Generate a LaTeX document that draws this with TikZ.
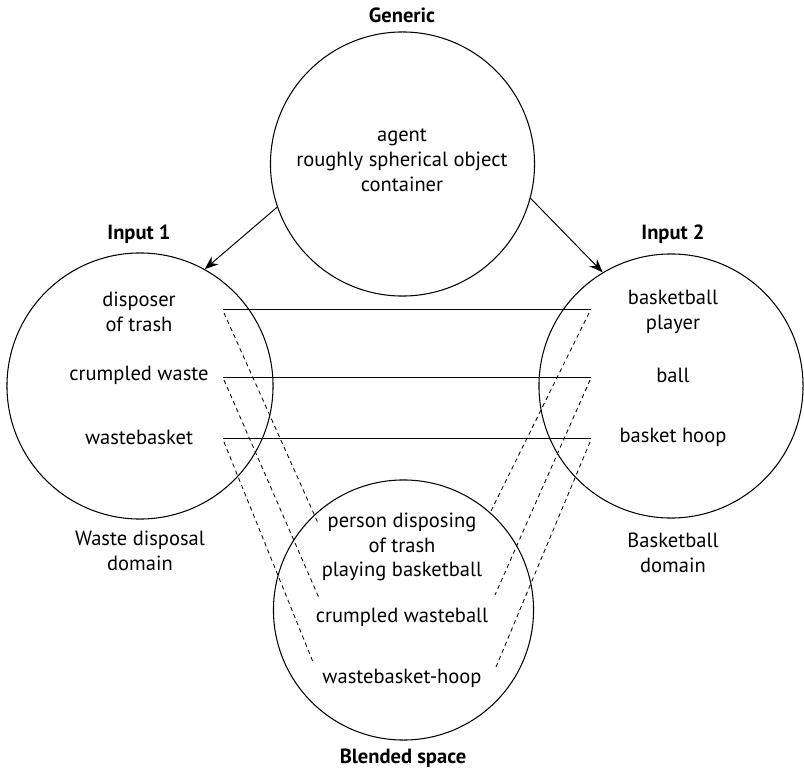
\documentclass[tikz,border=0pt]{standalone}
\usepackage{fontspec}
\setmainfont{PT Sans}
\usetikzlibrary{arrows.meta,positioning}

\begin{document}
\begin{tikzpicture}[
  x=0.025cm, y=-0.025cm,
  font=\fontsize{14.6}{17.6}\selectfont,
  space/.style={draw, circle, line width=0.75pt, inner sep=0pt},
  title/.style={font=\fontsize{14.6}{17.6}\selectfont\bfseries, inner sep=1pt},
  item/.style={align=center, inner sep=1pt},
  arrow/.style={-{Stealth[length=3.4mm, width=2.6mm]}, line width=0.7pt},
  link/.style={line width=0.65pt},
  blendlink/.style={line width=0.6pt, dash pattern=on 3pt off 2.5pt}
]
\useasboundingbox (0,0) rectangle (804,768);

\node[space, minimum size=6.6cm] (gen) at (402.5,164) {};
\node[space, minimum size=6.65cm] (in1) at (140,386) {};
\node[space, minimum size=6.6cm] (in2) at (671,386) {};
\node[space, minimum size=6.5cm] (blend) at (403.5,610) {};

\node[title] (gent) at (402,15) {Generic};
\node[title] (in1t) at (139,234) {Input 1};
\node[title] (in2t) at (673,234) {Input 2};
\node[title] (blendt) at (403,758) {Blended space};

\node[item] (genx) at (402,160) {agent\\roughly spherical object\\container};

\node[item] (a1) at (139,312) {disposer\\of trash};
\node[item] (a2) at (139,375) {crumpled waste};
\node[item] (a3) at (139,437) {wastebasket};
\node[item] (adom) at (140,551) {Waste disposal\\domain};

\node[item] (b1) at (673,312) {basketball\\player};
\node[item] (b2) at (673,375) {ball};
\node[item] (b3) at (673,437) {basket hoop};
\node[item] (bdom) at (673,553) {Basketball\\domain};

\node[item] (c1) at (402,547) {person disposing\\of trash\\playing basketball};
\node[item] (c2) at (402,617) {crumpled wasteball};
\node[item] (c3) at (402,678) {wastebasket-hoop};

\coordinate (l1a) at (223,309);
\coordinate (l1b) at (591,309);
\coordinate (l2a) at (223,377);
\coordinate (l2b) at (591,377);
\coordinate (l3a) at (223,438);
\coordinate (l3b) at (591,438);

\coordinate (d1a) at (224,313);
\coordinate (d2a) at (224,380);
\coordinate (d3a) at (224,442);
\coordinate (e1a) at (589,313);
\coordinate (e2a) at (590,380);
\coordinate (e3a) at (590,442);

\coordinate (d1b) at (318,523);
\coordinate (d2b) at (319,598);
\coordinate (d3b) at (313,662);
\coordinate (e1b) at (490,513);
\coordinate (e2b) at (495,595);
\coordinate (e3b) at (496,667);

\draw[arrow] (gen.199) -- (in1.61);
\draw[arrow] (gen.345) -- (in2.121);

\draw[link] (l1a) -- (l1b);
\draw[link] (l2a) -- (l2b);
\draw[link] (l3a) -- (l3b);

\draw[blendlink] (d1a) -- (d1b);
\draw[blendlink] (d2a) -- (d2b);
\draw[blendlink] (d3a) -- (d3b);
\draw[blendlink] (e1a) -- (e1b);
\draw[blendlink] (e2a) -- (e2b);
\draw[blendlink] (e3a) -- (e3b);
\end{tikzpicture}
\end{document}
